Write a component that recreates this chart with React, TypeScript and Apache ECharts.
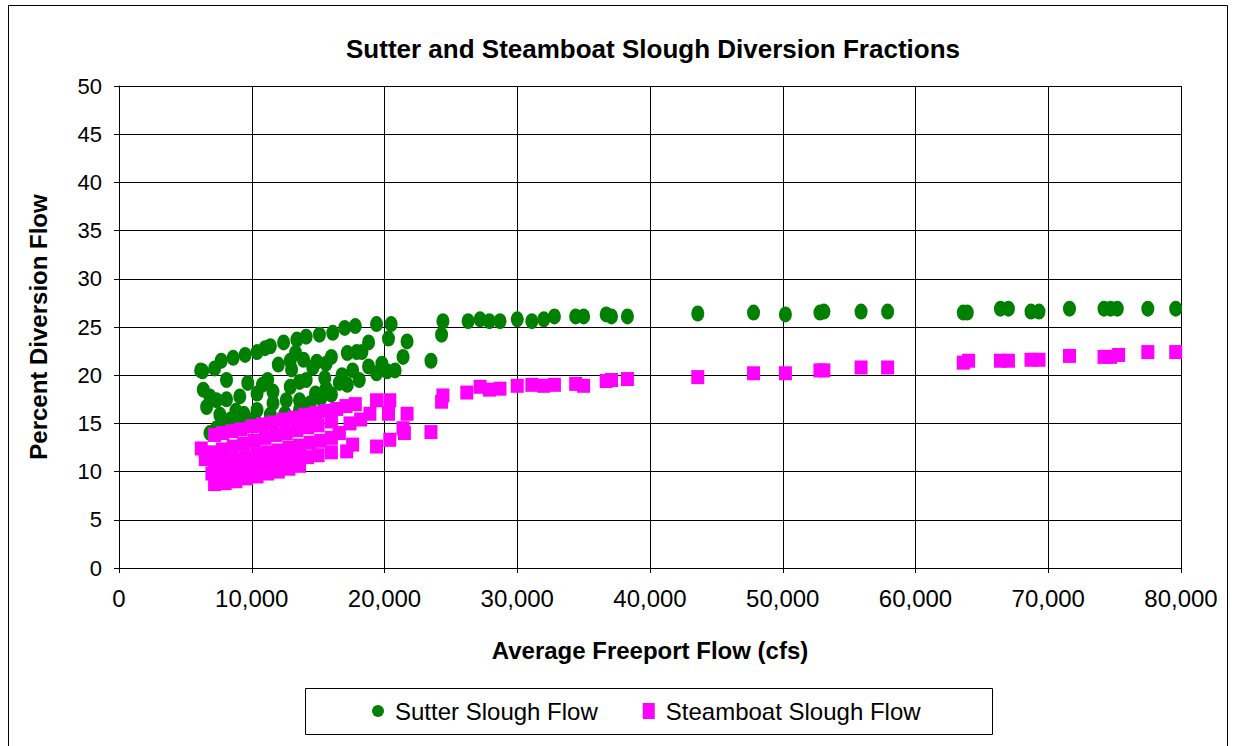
import React, { useEffect, useRef } from "react";
import * as echarts from "echarts";

const titleText = "Sutter and Steamboat Slough Diversion Fractions";
const xAxisName = "Average Freeport Flow (cfs)";
const yAxisName = "Percent Diversion Flow";
const seriesNames = ["Sutter Slough Flow", "Steamboat Slough Flow"];

// Sutter Slough: [Average Freeport Flow (cfs), Percent Diversion Flow]
const sutterPoints: [number, number][] = [
  [6150, 20.5], [6300, 20.4], [7200, 20.7], [7700, 21.5], [8600, 21.8], [9500, 22.1], [10400, 22.4], [11000, 22.8],
  [11400, 23.0], [12400, 23.4], [13400, 23.7], [14100, 24.0], [15100, 24.2], [16100, 24.4], [17000, 24.9],
  [17800, 25.1], [19400, 25.3], [20500, 25.3],
  [8100, 19.5], [9700, 19.2], [11200, 19.5], [12000, 21.1], [12900, 21.5], [13900, 21.6], [14900, 21.4],
  [16000, 21.9], [17200, 22.3], [17900, 22.4], [18300, 22.4], [18800, 23.4], [20300, 23.8], [21700, 23.5],
  [21400, 21.9], [23500, 21.5],
  [6350, 18.5], [6850, 17.8], [7350, 17.4], [8100, 17.5], [9100, 17.8], [10400, 18.1], [11600, 18.3],
  [12900, 18.8], [13600, 19.3], [14100, 19.5], [15500, 19.7], [16800, 20.0], [17600, 20.5], [18800, 20.9],
  [19400, 20.2], [20200, 20.4], [20800, 20.5],
  [6600, 16.7], [7600, 15.9], [8400, 15.4], [9400, 16.0], [10400, 16.4], [11600, 17.1], [12600, 17.4],
  [13600, 17.4], [14400, 17.1], [15200, 17.6], [16000, 18.0], [16600, 19.2],
  [6850, 14.0], [7350, 14.5], [8100, 14.8], [9100, 15.2], [10200, 15.5], [11400, 15.9], [12500, 16.0], [13600, 16.4],
  [10800, 19.0], [13000, 20.6], [14600, 20.8], [15600, 21.2], [13300, 22.3], [8800, 16.3], [15600, 18.6],
  [17200, 19.0], [18100, 19.5], [14800, 18.1], [19800, 21.2],
  [24300, 24.2], [24400, 25.6], [26300, 25.6], [27200, 25.8], [27900, 25.6], [28700, 25.6], [30000, 25.8],
  [31100, 25.6], [32000, 25.8], [32800, 26.1], [34400, 26.1], [35000, 26.1], [36700, 26.3], [37100, 26.1],
  [38300, 26.1], [43600, 26.4], [47800, 26.5], [50200, 26.3], [52800, 26.5], [53100, 26.6], [55900, 26.6],
  [57900, 26.6], [63600, 26.5], [63900, 26.5], [66400, 26.9], [67000, 26.9], [68700, 26.6], [69300, 26.6],
  [71600, 26.9], [74200, 26.9], [74700, 26.9], [75200, 26.9], [77500, 26.9], [79600, 26.9],
];

// Steamboat Slough: [Average Freeport Flow (cfs), Percent Diversion Flow]
const steamboatPoints: [number, number][] = [
  [7200, 13.8], [7800, 14.0], [8500, 14.2], [9200, 14.4], [10000, 14.7], [10800, 14.9], [11600, 15.1],
  [12400, 15.4], [13200, 15.6], [14000, 15.9], [14800, 16.1], [15600, 16.3], [16400, 16.5], [17100, 16.8],
  [17800, 17.0], [19400, 17.4], [20400, 17.4],
  [6200, 12.4], [7000, 12.0], [7800, 12.3], [8600, 12.6], [9400, 12.9], [10200, 13.2], [11000, 13.5],
  [11800, 13.8], [12600, 14.0], [13400, 14.3], [14200, 14.6], [15000, 14.8], [16000, 15.2], [17400, 15.0],
  [18200, 15.4], [18900, 16.0], [20300, 16.0], [21700, 16.0],
  [6500, 11.3], [7200, 10.8], [8000, 11.0], [8800, 11.2], [9600, 11.5], [10400, 11.8], [11200, 12.0],
  [12000, 12.2], [12800, 12.5], [13600, 12.7], [14400, 13.0], [15200, 13.2], [16000, 13.5], [16600, 14.0],
  [7000, 9.8], [7800, 9.9], [8600, 10.1], [9400, 10.3], [10200, 10.5], [11000, 10.7], [11800, 10.9],
  [12600, 11.1], [13400, 11.3], [14200, 11.5], [15000, 11.7], [16000, 12.0], [17150, 12.1], [17600, 12.8],
  [19400, 12.6], [20400, 13.3], [21500, 14.0], [21400, 14.5], [23500, 14.1],
  [7200, 8.7], [8000, 8.8], [8800, 9.0], [9600, 9.3], [10400, 9.5], [11200, 9.8], [12000, 10.0],
  [12800, 10.3], [13600, 10.6],
  [24300, 17.25], [24400, 17.9], [26200, 18.2], [27200, 18.8], [27900, 18.5], [28700, 18.6], [30000, 18.9],
  [31100, 19.0], [32000, 18.9], [32800, 19.0], [34400, 19.1], [35000, 18.9], [36700, 19.4], [37100, 19.5],
  [38300, 19.6], [43600, 19.8], [47800, 20.2], [50200, 20.2], [52800, 20.5], [53100, 20.5], [55900, 20.8],
  [57900, 20.8], [63600, 21.3], [64000, 21.5], [66400, 21.5], [67000, 21.5], [68700, 21.6], [69300, 21.6],
  [71600, 22.0], [74200, 21.9], [74700, 21.9], [75300, 22.1], [77500, 22.4], [79600, 22.4],
];

const FONT = "'Liberation Sans', Arial, sans-serif";
const ELLIPSE = "path://M50,0 A50,50 0 1,1 50,100 A50,50 0 1,1 50,0 Z";

export default function App() {
  const ref = useRef<HTMLDivElement>(null);
  useEffect(() => {
    document.body.style.margin = "0";
    if (!ref.current) return;
    const chart = echarts.init(ref.current, undefined, { renderer: "svg" });
    chart.setOption({
      animation: false,
      backgroundColor: "#ffffff",
      textStyle: { fontFamily: FONT, color: "#000" },
      title: {
        text: titleText,
        left: 648,
        top: 31,
        textAlign: "center",
        textStyle: { fontFamily: FONT, fontSize: 26, fontWeight: "bold", color: "#000" },
      },
      grid: { left: 119, right: 54, top: 86, bottom: 178, containLabel: false },
      xAxis: {
        type: "value",
        min: 0,
        max: 80000,
        interval: 10000,
        name: xAxisName,
        nameLocation: "middle",
        nameGap: 70,
        nameTextStyle: { fontFamily: FONT, fontSize: 24, fontWeight: "bold", color: "#000" },
        axisLine: { show: true, lineStyle: { color: "#000", width: 1 } },
        axisTick: { show: true, length: 5, lineStyle: { color: "#000" } },
        axisLabel: {
          fontFamily: FONT,
          fontSize: 24,
          color: "#000",
          margin: 18,
          formatter: (v: number) => v.toLocaleString("en-US"),
        },
        splitLine: { show: true, lineStyle: { color: "#000", width: 1 } },
      },
      yAxis: {
        type: "value",
        min: 0,
        max: 50,
        interval: 5,
        name: yAxisName,
        nameLocation: "middle",
        nameGap: 69,
        nameTextStyle: { fontFamily: FONT, fontSize: 24, fontWeight: "bold", color: "#000" },
        axisLine: { show: true, lineStyle: { color: "#000", width: 1 } },
        axisTick: { show: true, length: 5, lineStyle: { color: "#000" } },
        axisLabel: { fontFamily: FONT, fontSize: 22, color: "#000", margin: 17 },
        splitLine: { show: true, lineStyle: { color: "#000", width: 1 } },
      },
      legend: {
        left: 372,
        top: 699,
        itemGap: 45,
        itemWidth: 12,
        itemHeight: 16,
        padding: 0,
        textStyle: { fontFamily: FONT, fontSize: 24, color: "#000", padding: [0, 0, 0, 6] },
        data: [
          { name: seriesNames[0], icon: ELLIPSE },
          { name: seriesNames[1], icon: "rect" },
        ],
      },
      graphic: [
        {
          type: "rect",
          shape: { x: 8.5, y: 5.5, width: 1219, height: 760 },
          style: { fill: "none", stroke: "#000", lineWidth: 1 },
          silent: true,
        },
        {
          type: "rect",
          shape: { x: 305.5, y: 688.5, width: 687, height: 46 },
          style: { fill: "none", stroke: "#000", lineWidth: 1 },
          silent: true,
        },
      ],
      series: [
        {
          name: seriesNames[0],
          type: "scatter",
          data: sutterPoints,
          symbol: ELLIPSE,
          symbolKeepAspect: false,
          symbolSize: [13, 16],
          itemStyle: { color: "#008000", opacity: 1 },
        },
        {
          name: seriesNames[1],
          type: "scatter",
          data: steamboatPoints,
          symbol: "rect",
          symbolSize: [13, 14],
          itemStyle: { color: "#ff00ff", opacity: 1 },
        },
      ],
    });
    return () => chart.dispose();
  }, []);
  return <div ref={ref} style={{ width: 1235, height: 746 }} />;
}
